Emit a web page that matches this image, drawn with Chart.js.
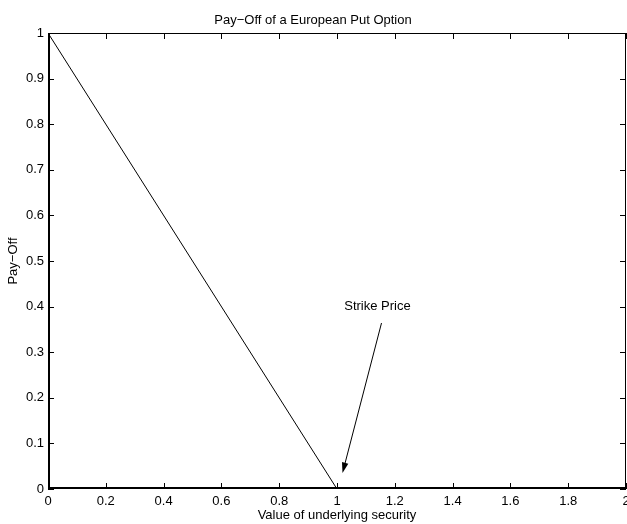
<!DOCTYPE html>
<html>
<head>
<meta charset="utf-8">
<script src="https://cdn.jsdelivr.net/npm/chart.js@4.4.1/dist/chart.umd.min.js"></script>
<style>
    html, body { margin: 0; padding: 0; background: #fff; }
    #wrap { width: 627px; height: 524px; }
</style>
</head>
<body>
<div id="wrap"><canvas id="payoffChart"></canvas></div>
<script>
// Underlying value vs put pay-off (strike = 1)
const underlying = [0, 1, 2];
const payoff = [1, 0, 0];
const xTicks = [0, 0.2, 0.4, 0.6, 0.8, 1, 1.2, 1.4, 1.6, 1.8, 2];
const yTicks = [0, 0.1, 0.2, 0.3, 0.4, 0.5, 0.6, 0.7, 0.8, 0.9, 1];

// annotation: label and arrow, in data units
const strikeLabel = ['Strike Price'];
const labelPos = [1.14, 0.40];
const arrowFrom = [1.154, 0.364];
const arrowTo = [1.019, 0.035];

const FONT = "'Liberation Sans', Arial, sans-serif";
const FS = 13;

// MATLAB-like box with inward ticks on all four sides + annotation
const boxPlugin = {
    id: 'matlabBox',
    afterDatasetsDraw(chart) {
        const { ctx, chartArea: a, scales: { x, y } } = chart;
        const tick = 6;
        ctx.save();
        ctx.strokeStyle = '#000';

        ctx.lineWidth = 1;
        ctx.beginPath();
        xTicks.forEach(v => {
            const px = Math.round(x.getPixelForValue(v)) + 0.5;
            ctx.moveTo(px, a.bottom); ctx.lineTo(px, a.bottom - tick);
            ctx.moveTo(px, a.top); ctx.lineTo(px, a.top + tick);
        });
        yTicks.forEach(v => {
            const py = Math.round(y.getPixelForValue(v)) + 0.5;
            ctx.moveTo(a.left, py); ctx.lineTo(a.left + tick, py);
            ctx.moveTo(a.right, py); ctx.lineTo(a.right - tick, py);
        });
        ctx.stroke();

        // top + right (thin)
        ctx.beginPath();
        ctx.moveTo(a.left, a.top + 0.5); ctx.lineTo(a.right - 0.5, a.top + 0.5);
        ctx.lineTo(a.right - 0.5, a.bottom);
        ctx.stroke();

        // left + bottom (thicker)
        ctx.lineWidth = 2;
        ctx.beginPath();
        ctx.moveTo(a.left + 1, a.top);
        ctx.lineTo(a.left + 1, a.bottom - 1);
        ctx.lineTo(a.right, a.bottom - 1);
        ctx.stroke();

        // annotation text
        ctx.fillStyle = '#000';
        ctx.font = FS + 'px ' + FONT;
        ctx.textAlign = 'center';
        ctx.textBaseline = 'middle';
        ctx.fillText(strikeLabel[0], x.getPixelForValue(labelPos[0]), y.getPixelForValue(labelPos[1]));

        // arrow
        const x0 = x.getPixelForValue(arrowFrom[0]), y0 = y.getPixelForValue(arrowFrom[1]);
        const x1 = x.getPixelForValue(arrowTo[0]), y1 = y.getPixelForValue(arrowTo[1]);
        const ang = Math.atan2(y1 - y0, x1 - x0);
        const head = 11, spread = 0.3;
        ctx.lineWidth = 1;
        ctx.beginPath();
        ctx.moveTo(x0, y0);
        ctx.lineTo(x1 - Math.cos(ang) * head * 0.8, y1 - Math.sin(ang) * head * 0.8);
        ctx.stroke();
        ctx.beginPath();
        ctx.moveTo(x1, y1);
        ctx.lineTo(x1 - head * Math.cos(ang - spread), y1 - head * Math.sin(ang - spread));
        ctx.lineTo(x1 - head * Math.cos(ang + spread), y1 - head * Math.sin(ang + spread));
        ctx.closePath();
        ctx.fill();
        ctx.restore();
    }
};

new Chart(document.getElementById('payoffChart'), {
    type: 'scatter',
    data: {
        datasets: [{
            data: underlying.map((v, i) => ({ x: v, y: payoff[i] })),
            showLine: true,
            borderColor: '#000',
            borderWidth: 1,
            pointRadius: 0,
            fill: false
        }]
    },
    options: {
        responsive: true,
        maintainAspectRatio: false,
        animation: false,
        layout: { padding: { top: 0, right: 1, left: 0, bottom: 0 } },
        plugins: {
            legend: { display: false },
            tooltip: { enabled: false },
            title: {
                display: true,
                text: 'Pay−Off of a European Put Option',
                color: '#000',
                font: { family: FONT, size: FS, weight: 'normal', lineHeight: 1.2 },
                padding: { top: 13, bottom: 4.4 }
            }
        },
        scales: {
            x: {
                type: 'linear',
                min: 0,
                max: 2,
                afterFit: s => { s.height = 35; s.paddingLeft = 0; s.paddingRight = 0; },
                afterBuildTicks: s => { s.ticks = xTicks.map(v => ({ value: v })); },
                grid: { display: false, drawTicks: false },
                border: { display: false },
                ticks: {
                    color: '#000',
                    padding: 5,
                    maxRotation: 0,
                    font: { family: FONT, size: FS },
                    callback: v => String(v)
                },
                title: {
                    display: true,
                    text: 'Value of underlying security',
                    color: '#000',
                    font: { family: FONT, size: FS },
                    padding: { top: 0, bottom: 1 }
                }
            },
            y: {
                type: 'linear',
                min: 0,
                max: 1,
                afterFit: s => { s.width = 48; s.paddingTop = 0; s.paddingBottom = 0; },
                afterBuildTicks: s => { s.ticks = yTicks.map(v => ({ value: v })); },
                grid: { display: false, drawTicks: false },
                border: { display: false },
                ticks: {
                    color: '#000',
                    padding: 4,
                    font: { family: FONT, size: FS },
                    callback: v => String(v)
                },
                title: {
                    display: true,
                    text: 'Pay−Off',
                    color: '#000',
                    font: { family: FONT, size: FS },
                    padding: { top: 6, bottom: 0 }
                }
            }
        }
    },
    plugins: [boxPlugin]
});
</script>
</body>
</html>
